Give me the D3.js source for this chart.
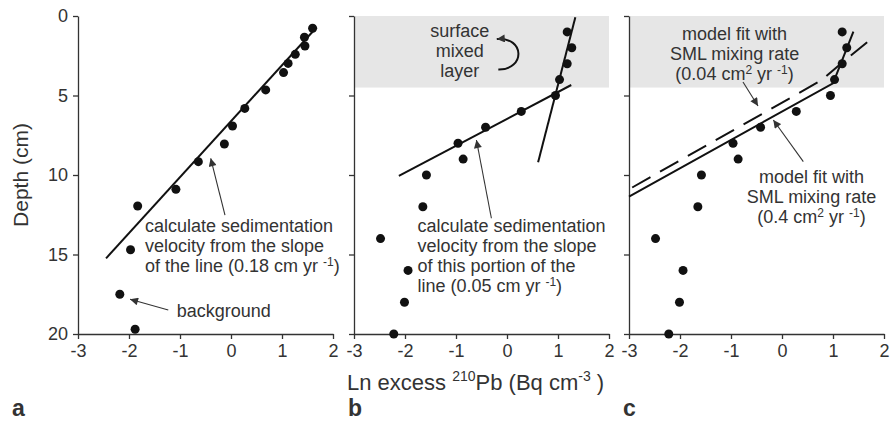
<!DOCTYPE html>
<html><head><meta charset="utf-8">
<script src="https://cdn.jsdelivr.net/npm/d3@7"></script>
<style>
html,body{margin:0;padding:0;background:#fff;}
svg{display:block;font-family:"Liberation Sans",Arial,sans-serif;}
</style></head>
<body>
<svg id="chart" width="890" height="421"></svg>
<script>
// ---- data ----
const xTicks = [-3, -2, -1, 0, 1, 2];
const yTicks = [0, 5, 10, 15, 20];
// panel a profile
const depthA = [0.77, 1.34, 1.89, 2.41, 2.98, 3.56, 4.65, 5.81, 6.92, 8.05, 9.16, 10.9, 11.95, 14.7, 17.5, 19.7];
const lnPbA  = [1.60, 1.44, 1.45, 1.26, 1.12, 1.03, 0.68, 0.27, 0.03, -0.13, -0.64, -1.08, -1.83, -1.97, -2.18, -1.88];
// panels b and c profile
const depthBC = [1, 2, 3, 4, 5, 6, 7, 8, 9, 10, 12, 14, 16, 18, 20];
const lnPbBC  = [1.18, 1.27, 1.18, 1.03, 0.95, 0.28, -0.42, -0.96, -0.86, -1.58, -1.65, -2.48, -1.94, -2.01, -2.22];
// fitted lines (ln Pb, depth)
const fitA_x = [-2.45, 1.68],  fitA_d = [15.24, 0.71];
const fitB1_x = [-2.12, 1.26], fitB1_d = [10.06, 4.34];
const fitB2_x = [0.61, 1.34],  fitB2_d = [9.2, 0.08];
const modelSolid_x = [-3, 1.0, 1.40], modelSolid_d = [11.36, 4.23, 0.99];
const modelDash_x = [1.67, 1.20, 0.78, -3], modelDash_d = [1.65, 2.87, 4.03, 10.9];
const smlDepth = 4.5;

// ---- layout ----
const svg = d3.select("#chart");
const yTop = 16, yBottom = 334, pw = 255;
const panels = [{left: 78, letter: "a", labels: true}, {left: 354, letter: "b"}, {left: 629, letter: "c"}];
const ink = "#333";
const y = d3.scaleLinear().domain([0, 20]).range([yTop, yBottom]);
panels.forEach(p => { p.x = d3.scaleLinear().domain([-3, 2]).range([p.left, p.left + pw]); });

svg.append("defs").append("marker").attr("id", "ah").attr("viewBox", "0 0 10 10")
  .attr("refX", 10).attr("refY", 5).attr("markerWidth", 10).attr("markerHeight", 8)
  .attr("markerUnits", "userSpaceOnUse").attr("orient", "auto")
  .append("path").attr("d", "M0,0 L10,5 L0,10 Z").attr("fill", ink);

const line = (xs, ds, sx) => d3.line()(xs.map((v, i) => [sx(v), y(ds[i])]));

// grey surface mixed layer bands in b and c
[panels[1], panels[2]].forEach(p => {
  svg.append("rect").attr("x", p.x(-3)).attr("y", y(0)).attr("width", p.x(2) - p.x(-3))
    .attr("height", y(smlDepth) - y(0)).attr("fill", "#e6e6e6");
});

// axes
panels.forEach(p => {
  const gx = svg.append("g").attr("transform", `translate(0,${yBottom})`)
    .call(d3.axisBottom(p.x).tickValues(xTicks).tickSize(5).tickSizeOuter(0).tickPadding(5).tickFormat(d => String(d)));
  const gy = svg.append("g").attr("transform", `translate(${p.left},0)`)
    .call(d3.axisLeft(y).tickValues(yTicks).tickSize(5).tickSizeOuter(0).tickPadding(5)
      .tickFormat(d => p.labels ? String(d) : ""));
  [gx, gy].forEach(g => {
    g.selectAll("path,line").attr("stroke", ink).attr("stroke-width", 1.3);
    g.selectAll("text").attr("fill", ink).style("font-size", "18px").style("font-family", "'Liberation Sans',Arial,sans-serif");
  });
  svg.append("text").attr("x", p.left - (p.letter === "a" ? 66 : 6)).attr("y", 416)
    .attr("font-size", 23).attr("font-weight", "bold").attr("fill", ink).text(p.letter);
});

// fit lines
const [pa, pb, pc] = panels;
const lineStyle = s => s.attr("fill", "none").attr("stroke", "#111").attr("stroke-width", 2);
svg.append("path").attr("d", line(fitA_x, fitA_d, pa.x)).call(lineStyle);
svg.append("path").attr("d", line(fitB1_x, fitB1_d, pb.x)).call(lineStyle);
svg.append("path").attr("d", line(fitB2_x, fitB2_d, pb.x)).call(lineStyle);
svg.append("path").attr("d", line(modelSolid_x, modelSolid_d, pc.x)).call(lineStyle);
svg.append("path").attr("d", line(modelDash_x, modelDash_d, pc.x)).call(lineStyle).attr("stroke-dasharray", "21,11");

// points
const dots = (xs, ds, sx) => svg.append("g").selectAll("circle").data(xs).join("circle")
  .attr("cx", d => sx(d)).attr("cy", (d, i) => y(ds[i])).attr("r", 4.5).attr("fill", "#111");
dots(lnPbA, depthA, pa.x);
dots(lnPbBC, depthBC, pb.x);
dots(lnPbBC, depthBC, pc.x);

// annotations
const arrow = (p, x1, d1, x2, d2) => svg.append("line")
  .attr("x1", p.x(x1)).attr("y1", y(d1)).attr("x2", p.x(x2)).attr("y2", y(d2))
  .attr("stroke", ink).attr("stroke-width", 1.1).attr("marker-end", "url(#ah)");

function para(p, xv, dv, lines, anchor) {
  const t = svg.append("text").attr("x", p.x(xv)).attr("y", y(dv)).attr("font-size", 18)
    .attr("fill", ink).attr("text-anchor", anchor || "start");
  lines.forEach((ln, i) => {
    const parts = Array.isArray(ln) ? ln : [ln];
    parts.forEach((part, j) => {
      const ts = t.append("tspan");
      if (j === 0) ts.attr("x", p.x(xv)).attr("dy", i === 0 ? 0 : 20);
      if (typeof part === "object") {
        ts.attr("font-size", 12).attr("dy", -6).text(part.sup);
      } else {
        const prevSup = j > 0 && typeof parts[j - 1] === "object";
        if (prevSup) ts.attr("dy", 6);
        ts.text(part);
      }
    });
  });
  return t;
}

// panel a
para(pa, -1.686, 13.57, ["calculate sedimentation", "velocity from the slope",
  ["of the line (0.18 cm yr ", {sup: "-1"}, ")"]]);
arrow(pa, -0.118, 12.52, -0.398, 8.95);
para(pa, -1.065, 18.95, ["background"]);
arrow(pa, -1.23, 18.49, -1.98, 17.82);

// panel b
para(pb, -0.927, 1.35, ["surface", "mixed", "layer"], "middle");
svg.append("path")
  .attr("d", `M${pb.x(-0.17)},${y(3.36)} C${pb.x(0.36)},${y(3.4)} ${pb.x(0.36)},${y(1.3)} ${pb.x(-0.2)},${y(1.45)}`)
  .attr("fill", "none").attr("stroke", "#111").attr("stroke-width", 2).attr("marker-end", "url(#ah)");
para(pb, -1.757, 13.57, ["calculate sedimentation", "velocity from the slope", "of this portion of the",
  ["line (0.05 cm yr ", {sup: "-1"}, ")"]]);
arrow(pb, -0.306, 12.72, -0.6, 7.8);

// panel c
para(pc, -0.93, 1.48, ["model fit with", "SML mixing rate", ["(0.04 cm", {sup: "2"}, " yr ", {sup: "-1"}, ")"]], "middle");
arrow(pc, -0.765, 4.15, -0.47, 5.66);
para(pc, 0.578, 10.52, ["model fit with", "SML mixing rate", ["(0.4 cm", {sup: "2"}, " yr ", {sup: "-1"}, ")"]], "middle");
arrow(pc, 0.418, 9.16, -0.17, 6.54);

// axis titles
svg.append("text").attr("transform", `translate(28,${(yTop + yBottom) / 2}) rotate(-90)`)
  .attr("text-anchor", "middle").attr("font-size", 21).attr("fill", ink).text("Depth (cm)");
const xt = svg.append("text").attr("x", 347).attr("y", 390).attr("font-size", 22).attr("fill", ink);
xt.append("tspan").text("Ln excess ");
xt.append("tspan").attr("font-size", 14).attr("dy", -9).text("210");
xt.append("tspan").attr("dy", 9).text("Pb (Bq cm");
xt.append("tspan").attr("font-size", 14).attr("dy", -9).text("-3");
xt.append("tspan").attr("dy", 9).text(" )");
</script>
</body></html>
